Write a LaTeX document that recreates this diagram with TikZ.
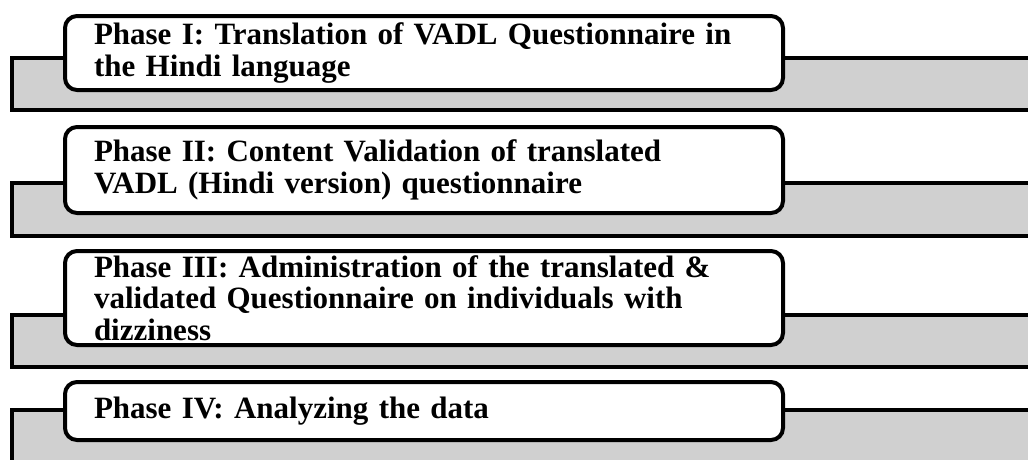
\documentclass[tikz,border=0pt]{standalone}
\usepackage{fontspec}
\setmainfont{Liberation Serif}
\definecolor{bandgray}{RGB}{208,208,208}
\begin{document}
\begin{tikzpicture}[x=1pt, y=-1pt,
					band/.style = {draw, line width=4pt, fill=bandgray},
					phasebox/.style = {draw, line width=4pt, fill=white, rounded corners=12pt,
						anchor=north west, minimum width=715pt, text width=660pt, inner xsep=29pt, inner ysep=2pt,
						align=left, font=\bfseries\fontsize{31}{31.5}\selectfont}
				]
				\clip (0,0) rectangle (1028,459);
				\def\bandleft{12}
				\foreach \top/\bot in {58/110, 183/236, 315/367, 410/480}
					\draw[band] (\bandleft,\top) rectangle (1040,\bot);
				\node[phasebox, minimum height=74pt] (p1) at (63,14) {Phase I: Translation of VADL Questionnaire in\\the Hindi language};
				\node[phasebox, minimum height=86pt] (p2) at (63,125) {Phase II: Content Validation of translated\\VADL (Hindi version) questionnaire};
				\node[phasebox, minimum height=94pt] (p3) at (63,249) {Phase III: Administration of the translated \&\\validated Questionnaire on individuals with\\dizziness};
				\node[phasebox, minimum height=58pt] (p4) at (63,380) {Phase IV: Analyzing the data};
			\end{tikzpicture}
\end{document}
